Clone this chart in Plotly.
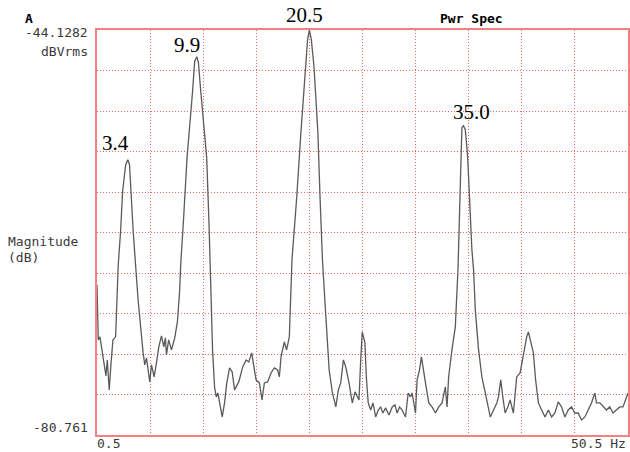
import plotly.graph_objects as go

# Power spectrum trace (frequency in Hz, magnitude in dBVrms)
freq_hz = [
    0.50, 0.62, 0.78, 0.97, 1.26, 1.34, 1.47, 1.65, 1.81, 2.00, 2.25, 2.38, 2.50,
    2.72, 2.91, 3.20, 3.40, 3.56, 3.69, 3.91, 4.13, 4.37, 4.84, 5.00, 5.16, 5.31,
    5.47, 5.63, 5.88, 6.10, 6.32, 6.57, 6.79, 6.94, 7.04, 7.25, 7.51, 7.82, 8.07,
    8.29, 8.38, 8.62, 8.98, 9.50, 9.70, 9.90, 10.05, 10.27, 10.83, 11.05, 11.15,
    11.38, 11.57, 11.73, 11.88, 12.04, 12.29, 12.51, 12.72, 12.98, 13.23, 13.45,
    13.61, 13.85, 14.22, 14.54, 14.79, 15.07, 15.32, 15.48, 15.79, 16.04, 16.26,
    16.57, 16.89, 17.20, 17.51, 17.67, 17.83, 18.14, 18.35, 18.61, 18.86, 19.29,
    19.70, 20.11, 20.33, 20.50, 20.68, 20.93, 21.30, 21.51, 21.73, 22.05, 22.36,
    22.67, 22.99, 23.23, 23.45, 23.70, 23.92, 24.23, 24.54, 24.80, 25.01, 25.17,
    25.33, 25.48, 25.73, 25.86, 26.04, 26.27, 26.49, 26.74, 26.98, 27.21, 27.42,
    27.68, 27.99, 28.30, 28.55, 28.76, 28.99, 29.23, 29.55, 29.80, 30.02, 30.17,
    30.33, 30.49, 30.64, 30.87, 31.05, 31.27, 31.43, 31.74, 32.05, 32.37, 32.68,
    32.99, 33.30, 33.46, 33.61, 33.92, 34.24, 34.49, 34.62, 34.81, 34.86, 35.00,
    35.18, 35.40, 35.65, 35.80, 35.96, 36.12, 36.43, 36.74, 37.06, 37.37, 37.53,
    37.84, 38.15, 38.30, 38.52, 38.71, 38.93, 39.18, 39.40, 39.71, 40.02, 40.34,
    40.65, 40.96, 41.12, 41.28, 41.59, 41.80, 42.06, 42.37, 42.69, 43.00, 43.31,
    43.62, 43.93, 44.24, 44.56, 44.87, 45.18, 45.50, 45.81, 46.12, 46.44, 46.75,
    47.06, 47.38, 47.53, 47.85, 48.16, 48.47, 48.78, 49.09, 49.40, 49.72, 50.03,
    50.34, 50.50,
]
mag_db = [
    -67.18, -72.16, -71.88, -73.06, -74.60, -75.42, -73.97, -76.68, -74.42, -72.16,
    -71.88, -68.53, -65.36, -62.35, -58.73, -56.31, -55.86, -56.31, -58.73, -62.35,
    -65.36, -68.53, -73.33, -74.42, -73.79, -75.15, -75.96, -74.42, -75.51, -74.24,
    -72.79, -71.79, -72.79, -71.97, -73.51, -72.16, -73.06, -71.97, -70.53, -67.63,
    -65.36, -61.74, -55.67, -49.67, -46.95, -46.55, -47.07, -49.67, -55.67, -61.74,
    -65.36, -73.06, -76.41, -77.32, -76.96, -77.86, -79.13, -77.86, -76.05, -74.69,
    -75.05, -76.68, -76.41, -75.96, -74.60, -73.97, -74.15, -73.33, -74.87, -75.78,
    -76.05, -77.59, -76.05, -75.96, -75.15, -74.69, -74.87, -75.51, -73.70, -72.34,
    -73.06, -71.88, -64.91, -59.48, -53.41, -47.41, -44.99, -44.13, -44.99, -47.41,
    -53.41, -59.48, -64.91, -70.07, -74.87, -76.96, -78.22, -76.68, -76.05, -73.97,
    -74.60, -76.05, -77.86, -76.86, -77.32, -77.59, -73.97, -71.43, -72.43, -75.51,
    -77.86, -78.50, -77.86, -79.13, -78.50, -78.22, -78.77, -78.31, -78.95, -78.22,
    -78.04, -78.77, -78.22, -78.50, -79.13, -76.96, -77.32, -76.96, -77.86, -78.77,
    -75.78, -74.87, -73.70, -74.87, -76.05, -77.86, -78.22, -78.77, -78.22, -77.86,
    -76.41, -78.22, -75.51, -73.06, -70.98, -65.82, -61.56, -55.56, -52.96, -52.78,
    -53.14, -55.56, -61.56, -64.01, -65.82, -69.44, -73.06, -75.51, -76.96, -78.22,
    -79.13, -78.50, -77.86, -77.32, -75.78, -77.32, -78.77, -78.22, -77.59, -78.77,
    -75.51, -75.15, -73.33, -71.88, -71.43, -72.16, -73.33, -75.78, -77.86, -78.50,
    -79.13, -78.50, -79.13, -78.77, -77.77, -78.22, -79.13, -78.50, -78.22, -78.77,
    -78.77, -79.40, -79.13, -78.50, -77.86, -76.96, -77.86, -77.86, -78.22, -78.50,
    -78.22, -78.77, -78.50, -78.22, -78.22, -77.32, -76.96,
]

# Marked spectral peaks
peak_freqs = [3.4, 9.9, 20.5, 35.0]
peak_shift = [(-12, 17), (-10, 12), (-5, 15), (8, 14)]

# Axis extents and annotation strings
x_min, x_max = 0.5, 50.5
y_min, y_max = -80.761, -44.1282
x_unit = "Hz"
y_unit = "dBVrms"
y_title = ["Magnitude", "(dB)"]
channel = "A"
title = "Pwr Spec"

BORDER = "#f28282"
GRID = "#e86868"
MONO = "DejaVu Sans Mono"
SERIF = "Liberation Serif"

fig = go.Figure()
fig.add_trace(go.Scatter(
    x=freq_hz, y=mag_db, mode="lines",
    line=dict(color="#5a5a5a", width=1.3),
    hoverinfo="skip", showlegend=False,
))

axis_common = dict(
    showgrid=True, gridcolor=GRID, gridwidth=1, griddash="1px,2px",
    showline=True, linecolor=BORDER, linewidth=2, mirror=True,
    zeroline=False, showticklabels=False, ticks="",
)
fig.update_xaxes(range=[x_min, x_max], tick0=x_min, dtick=(x_max - x_min) / 10,
                 **axis_common)
fig.update_yaxes(range=[y_min, y_max], tick0=y_min, dtick=(y_max - y_min) / 10,
                 **axis_common)

annotations = []

# Peak frequency labels
for f, (dx, dy) in zip(peak_freqs, peak_shift):
    i = min(range(len(freq_hz)), key=lambda k: abs(freq_hz[k] - f))
    annotations.append(dict(
        x=f, y=mag_db[i], xref="x", yref="y", text=f"{f:.1f}",
        showarrow=False, xanchor="center", yanchor="middle",
        xshift=dx, yshift=dy,
        font=dict(family=SERIF, size=21, color="#000000"),
    ))


def paper_label(text, x, y, xanchor, bold=False, color="#3a3a3a"):
    annotations.append(dict(
        x=x, y=y, xref="paper", yref="paper", text=f"<b>{text}</b>" if bold else text,
        showarrow=False, xanchor=xanchor, yanchor="middle",
        font=dict(family=MONO, size=13, color=color),
    ))


paper_label(channel, -0.1276, 1.0272, "center", bold=True, color="#000000")
paper_label(title, 0.7054, 1.0296, "center", bold=True, color="#000000")
paper_label(f"{y_max:g}", -0.0131, 0.9926, "right")
paper_label(y_unit, -0.0131, 0.948, "right")
paper_label(f"{y_min:g}", -0.0131, 0.0173, "right")
paper_label(y_title[0], -0.171, 0.479, "left")
paper_label(y_title[1], -0.171, 0.4395, "left")
paper_label(f"{x_min:g}", -0.004, -0.0198, "left")
paper_label(f"{x_max:g} {x_unit}", 1.0, -0.0198, "right")

fig.update_layout(
    width=630, height=452,
    margin=dict(l=97, r=0, t=30, b=17),
    paper_bgcolor="#ffffff", plot_bgcolor="#ffffff",
    annotations=annotations,
    showlegend=False,
)

fig.write_html("out.html")
